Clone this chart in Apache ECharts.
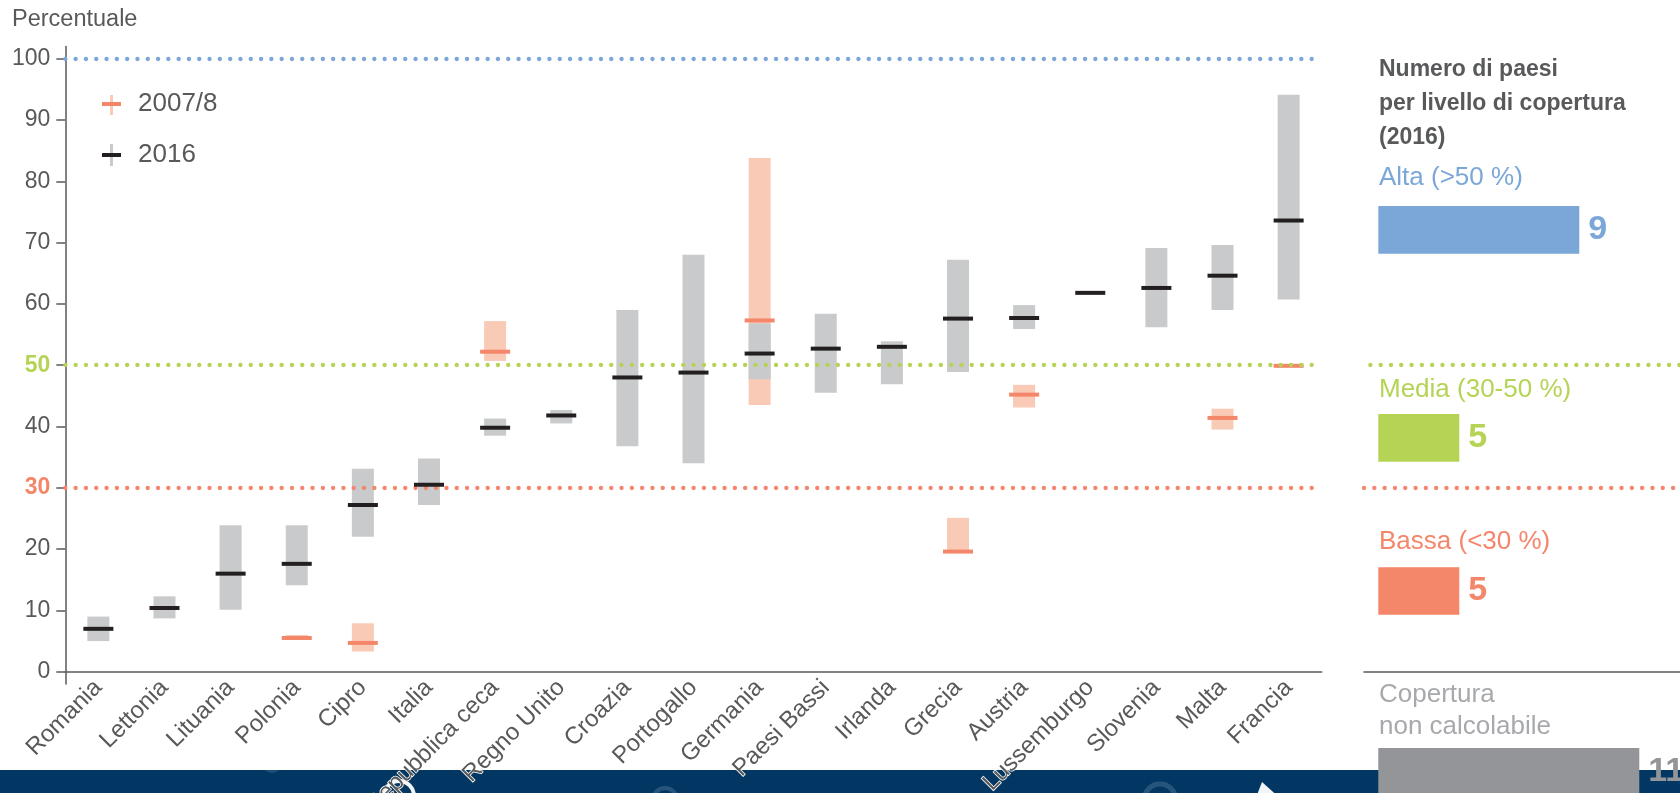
<!DOCTYPE html>
<html>
<head>
<meta charset="utf-8">
<script src="https://cdn.jsdelivr.net/npm/echarts@6/dist/echarts.min.js"></script>
<style>
  html, body { margin: 0; padding: 0; background: #ffffff; }
  #chart { width: 1680px; height: 793px; }
</style>
</head>
<body>
<div id="chart"></div>
<script>
// Countries, ordered by 2016 coverage
const countries = ['Romania', 'Lettonia', 'Lituania', 'Polonia', 'Cipro', 'Italia', 'Repubblica ceca',
  'Regno Unito', 'Croazia', 'Portogallo', 'Germania', 'Paesi Bassi', 'Irlanda', 'Grecia', 'Austria',
  'Lussemburgo', 'Slovenia', 'Malta', 'Francia'];

// 2016: range (min / max) and central estimate, percent
const low2016  = [5.0, 8.7, 10.1, 14.1, 22.0, 27.2, 38.5, 40.5, 36.8, 34.0, 47.7, 45.5, 46.9, 48.9, 55.9, null, 56.2, 59.0, 60.7];
const high2016 = [9.0, 12.3, 23.9, 23.9, 33.1, 34.8, 41.3, 42.7, 59.0, 68.0, 56.8, 58.4, 53.9, 67.2, 59.8, null, 69.1, 69.6, 94.1];
const mid2016  = [7.0, 10.4, 16.0, 17.6, 27.2, 30.5, 39.8, 41.8, 48.0, 48.8, 51.9, 52.7, 53.0, 57.6, 57.7, 61.8, 62.6, 64.6, 73.6];

// 2007/8: range and central estimate, percent (only where available)
const low2007  = [null, null, null, 5.2, 3.3, null, 50.7, null, null, null, 43.5, null, null, 19.6, 43.1, null, null, 39.5, null];
const high2007 = [null, null, null, 6.0, 7.9, null, 57.2, null, null, null, 83.8, null, null, 25.1, 46.8, null, null, 42.9, null];
const mid2007  = [null, null, null, 5.5, 4.7, null, 52.2, null, null, null, 57.3, null, null, 19.6, 45.2, null, null, 41.4, 49.9];

// Threshold lines (percent)
const thresholds = [100, 50, 30];
const yTicks = [0, 10, 20, 30, 40, 50, 60, 70, 80, 90, 100];

// Side panel: number of countries by coverage level (2016)
const coverageLevels = ['Alta (>50 %)', 'Media (30-50 %)', 'Bassa (<30 %)', 'Copertura\nnon calcolabile'];
const coverageCounts = [9, 5, 5, 11];

const C = {
  text: '#58595b', grey: '#c9cacc', black: '#231f20', pink: '#f9cab6', orange: '#f4866a',
  blue: '#7ba7d8', green: '#b5d455', darkGrey: '#939598', lightText: '#a7a9ac', band: '#023763'
};
const levelColors = [C.blue, C.green, C.orange, C.darkGrey];
const levelTextColors = [C.blue, C.green, C.orange, C.lightText];
const thresholdColors = { 100: C.blue, 50: C.green, 30: C.orange };
const FONT = '"Liberation Sans", Arial, sans-serif';

const chart = echarts.init(document.getElementById('chart'), null, { renderer: 'canvas' });

// geometry of the main plot
const PLOT = { left: 65.3, top: 46.4, width: 1256.4, height: 637.6 };

function rangeData(lo, hi) {
  const out = [];
  lo.forEach((v, i) => { if (v != null && hi[i] != null) out.push([i, v, hi[i]]); });
  return out;
}
function midData(m) {
  const out = [];
  m.forEach((v, i) => { if (v != null) out.push([i, v]); });
  return out;
}
function rangeRenderer(color) {
  return function (params, api) {
    const i = api.value(0);
    const top = api.coord([i, api.value(2)]);
    const bot = api.coord([i, api.value(1)]);
    return {
      type: 'rect',
      shape: { x: top[0] - 11, y: top[1], width: 22, height: bot[1] - top[1] },
      style: { fill: color }
    };
  };
}
function midRenderer(color) {
  return function (params, api) {
    const p = api.coord([api.value(0), api.value(1)]);
    return {
      type: 'rect',
      shape: { x: p[0] - 15, y: p[1] - 2, width: 30, height: 4 },
      style: { fill: color }
    };
  };
}

const dotted = { type: [0.1, 10.2], width: 4.3, cap: 'round' };

// Side panel bar rows: vertical centres
const rowCentres = [229.9, 437.8, 591.0, 771.9];
const rowLabelY = [178.3, 390.0, 541.5, 711.0];
const BAR_H = 47.7;

const grids = [
  Object.assign({ outerBoundsMode: 'none', containLabel: false }, PLOT),
  { left: 1364, top: PLOT.top, width: 316, height: PLOT.height, outerBoundsMode: 'none', containLabel: false }
];
const xAxes = [
  {
    type: 'category', gridIndex: 0, data: countries, boundaryGap: true, z: 3,
    axisLine: { onZero: true, lineStyle: { color: C.text, width: 1.5 } },
    axisTick: { show: false },
    axisLabel: {
      interval: 0, rotate: 45, margin: 0, fontSize: 24, color: C.text, fontFamily: FONT,
      textBorderColor: '#ffffff', textBorderWidth: 1.5
    },
    splitLine: { show: false }
  },
  {
    type: 'value', gridIndex: 1, min: 0, max: 1,
    axisLine: { show: true, onZero: true, lineStyle: { color: C.text, width: 1.5 } },
    axisTick: { show: false }, axisLabel: { show: false }, splitLine: { show: false }
  }
];
const yAxes = [
  {
    type: 'value', gridIndex: 0, min: -2, max: 102,
    axisLine: { show: true, lineStyle: { color: C.text, width: 1.5 } },
    axisTick: { show: true, length: 9, customValues: yTicks, lineStyle: { color: C.text, width: 1.5 } },
    axisLabel: {
      customValues: yTicks, margin: 15, fontSize: 23, color: C.text, fontFamily: FONT,
      formatter: v => v === 50 ? '{g|50}' : v === 30 ? '{o|30}' : String(v),
      rich: {
        g: { color: C.green, fontWeight: 'bold', fontSize: 23, fontFamily: FONT },
        o: { color: C.orange, fontWeight: 'bold', fontSize: 23, fontFamily: FONT }
      }
    },
    splitLine: { show: false }
  },
  { type: 'value', gridIndex: 1, min: -2, max: 102, show: false }
];

const series = [
  // threshold lines in the main plot
  {
    type: 'line', xAxisIndex: 0, yAxisIndex: 0, data: [], z: 1, silent: true,
    markLine: {
      silent: true, symbol: ['none', 'none'], animation: false, label: { show: false },
      lineStyle: dotted,
      data: thresholds.map(t => ({ yAxis: t, lineStyle: Object.assign({ color: thresholdColors[t] }, dotted) }))
    }
  },
  // threshold lines continued beside the side panel
  {
    type: 'line', xAxisIndex: 1, yAxisIndex: 1, data: [], z: 1, silent: true,
    markLine: {
      silent: true, symbol: ['none', 'none'], animation: false, label: { show: false },
      lineStyle: dotted,
      data: [
        [{ coord: [0.02, 50], lineStyle: Object.assign({ color: C.green }, dotted) }, { coord: [1, 50] }],
        [{ coord: [0, 30], lineStyle: Object.assign({ color: C.orange }, dotted) }, { coord: [1, 30] }]
      ]
    }
  },
  { name: '2007/8', type: 'custom', xAxisIndex: 0, yAxisIndex: 0, z: 2, renderItem: rangeRenderer(C.pink), data: rangeData(low2007, high2007), animation: false },
  { name: '2016', type: 'custom', xAxisIndex: 0, yAxisIndex: 0, z: 3, renderItem: rangeRenderer(C.grey), data: rangeData(low2016, high2016), animation: false },
  { name: '2007/8', type: 'custom', xAxisIndex: 0, yAxisIndex: 0, z: 4, renderItem: midRenderer(C.orange), data: midData(mid2007), animation: false },
  { name: '2016', type: 'custom', xAxisIndex: 0, yAxisIndex: 0, z: 5, renderItem: midRenderer(C.black), data: midData(mid2016), animation: false }
];

// side panel: one small horizontal bar grid per coverage level
coverageLevels.forEach((lvl, i) => {
  grids.push({ left: 1378.3, width: 300, top: rowCentres[i] - BAR_H / 2, height: BAR_H, outerBoundsMode: 'none', containLabel: false });
  xAxes.push({ type: 'value', gridIndex: 2 + i, min: 2.3, max: 12.3, show: false });
  yAxes.push({ type: 'category', gridIndex: 2 + i, data: [lvl], show: false });
  series.push({
    type: 'bar', xAxisIndex: 2 + i, yAxisIndex: 2 + i, z: 5, barWidth: BAR_H, clip: true,
    data: [coverageCounts[i]], animation: false,
    itemStyle: { color: levelColors[i] },
    label: {
      show: true, position: 'right', distance: 9, fontSize: 34, fontWeight: 'bold',
      color: levelColors[i], fontFamily: FONT
    }
  });
});

const graphics = [
  { type: 'text', left: 12, top: 8, style: { text: 'Percentuale', fill: C.text, font: '23.5px ' + FONT } },
  // legend
  { type: 'rect', shape: { x: 110, y: 95, width: 3, height: 20 }, style: { fill: C.pink } },
  { type: 'rect', shape: { x: 102, y: 102, width: 19, height: 4 }, style: { fill: C.orange } },
  { type: 'text', x: 138, y: 104, style: { text: '2007/8', fill: C.text, font: '26px ' + FONT, textVerticalAlign: 'middle' } },
  { type: 'rect', shape: { x: 110, y: 144, width: 3, height: 22 }, style: { fill: C.grey } },
  { type: 'rect', shape: { x: 102, y: 153, width: 19, height: 4 }, style: { fill: C.black } },
  { type: 'text', x: 138, y: 155, style: { text: '2016', fill: C.text, font: '26px ' + FONT, textVerticalAlign: 'middle' } },
  // side panel title
  {
    type: 'text', x: 1379, y: 53.2,
    style: { text: 'Numero di paesi\nper livello di copertura\n(2016)', fill: C.text, font: 'bold 23px ' + FONT, lineHeight: 33.7, textVerticalAlign: 'top' }
  },
  // bottom band with faint emblem shapes
  {
    type: 'group', z: 0,
    children: [
      { type: 'rect', shape: { x: 0, y: 770, width: 1680, height: 30 }, style: { fill: C.band } },
      { type: 'circle', shape: { cx: 272, cy: 764, r: 9 }, style: { fill: '#ffffff', opacity: 0.12 } },
      { type: 'circle', shape: { cx: 399, cy: 796, r: 15 }, style: { fill: 'none', stroke: '#ffffff', lineWidth: 4, opacity: 0.95 } },
      { type: 'circle', shape: { cx: 665, cy: 800, r: 12 }, style: { fill: 'none', stroke: '#ffffff', lineWidth: 4, opacity: 0.15 } },
      { type: 'circle', shape: { cx: 1160, cy: 800, r: 16 }, style: { fill: 'none', stroke: '#ffffff', lineWidth: 5, opacity: 0.15 } },
      { type: 'polygon', shape: { points: [[1255, 800], [1262, 782], [1282, 800]] }, style: { fill: '#ffffff', opacity: 0.95 } }
    ]
  }
];
coverageLevels.forEach((lvl, i) => {
  graphics.push({
    type: 'text', x: 1379, y: rowLabelY[i],
    style: { text: lvl, fill: levelTextColors[i], font: '26px ' + FONT, lineHeight: 32, textVerticalAlign: 'middle' }
  });
});

chart.setOption({
  animation: false,
  textStyle: { fontFamily: FONT },
  grid: grids,
  xAxis: xAxes,
  yAxis: yAxes,
  series: series,
  graphic: graphics
});
</script>
</body>
</html>
